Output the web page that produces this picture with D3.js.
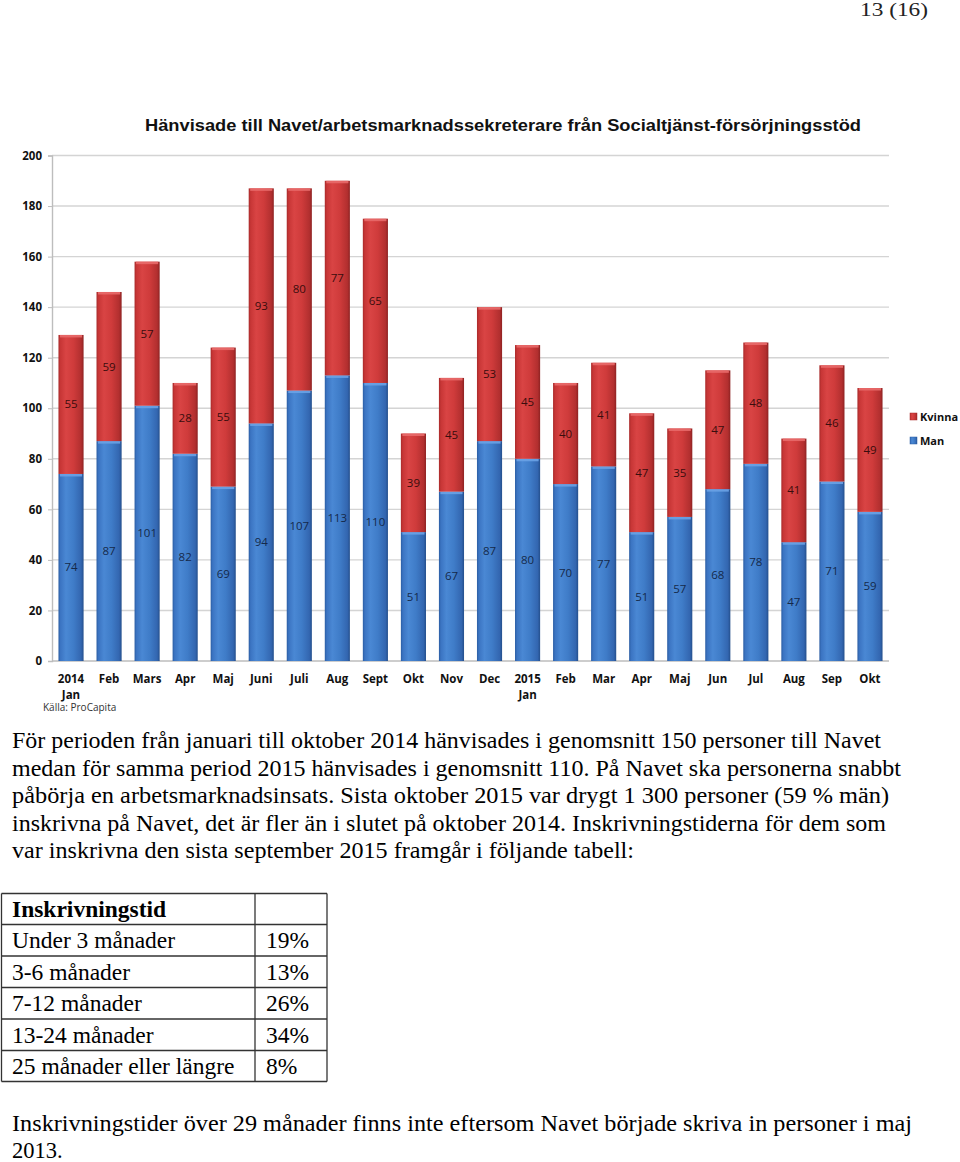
<!DOCTYPE html>
<html><head><meta charset="utf-8">
<script src="https://cdn.jsdelivr.net/npm/d3@7"></script>
<style>
html,body{margin:0;padding:0;background:#fff;}
svg{display:block;}
</style></head>
<body>
<script>
// ---- data ----
const categories = ["2014 Jan","Feb","Mars","Apr","Maj","Juni","Juli","Aug","Sept","Okt","Nov","Dec",
  "2015 Jan","Feb","Mar","Apr","Maj","Jun","Jul","Aug","Sep","Okt"];
const manValues    = [74,87,101,82,69,94,107,113,110,51,67,87,80,70,77,51,57,68,78,47,71,59];
const kvinnaValues = [55,59,57,28,55,93,80,77,65,39,45,53,45,40,41,47,35,47,48,41,46,49];
const seriesNames = ["Kvinna","Man"];
const yTicks = [0,20,40,60,80,100,120,140,160,180,200];
const chartTitle = "Hänvisade till Navet/arbetsmarknadssekreterare från Socialtjänst-försörjningsstöd";
const sourceText = "Källa: ProCapita";
const pageNumber = "13 (16)";
const paragraphLines = [
  "För perioden från januari till oktober 2014 hänvisades i genomsnitt 150 personer till Navet",
  "medan för samma period 2015 hänvisades i genomsnitt 110. På Navet ska personerna snabbt",
  "påbörja en arbetsmarknadsinsats. Sista oktober 2015 var drygt 1 300 personer (59 % män)",
  "inskrivna på Navet, det är fler än i slutet på oktober 2014. Inskrivningstiderna för dem som",
  "var inskrivna den sista september 2015 framgår i följande tabell:"
];
const tableHeader = "Inskrivningstid";
const tableLabels = ["Under 3 månader","3-6 månader","7-12 månader","13-24 månader","25 månader eller längre"];
const tableValues = ["19%","13%","26%","34%","8%"];
const footerLines = [
  "Inskrivningstider över 29 månader finns inte eftersom Navet började skriva in personer i maj",
  "2013."
];

const W = 960, H = 1162;
const svg = d3.select("body").append("svg").attr("width", W).attr("height", H);
const defs = svg.append("defs");

function grad(id, stops){
  const g = defs.append("linearGradient").attr("id", id).attr("x1","0").attr("x2","1").attr("y1","0").attr("y2","0");
  stops.forEach(s => g.append("stop").attr("offset", s[0]).attr("stop-color", s[1]));
}
grad("gRed", [[0,"#a82a2a"],[0.08,"#c73636"],[0.3,"#d94444"],[0.6,"#cf3b3b"],[0.9,"#b22f2f"],[1,"#8e2222"]]);
grad("gBlue",[[0,"#2b5da3"],[0.08,"#3b74c2"],[0.3,"#4a88d4"],[0.6,"#3f7cc8"],[0.9,"#3366b0"],[1,"#244f8c"]]);

const serif = "'Liberation Serif','Times New Roman',serif";
const sans = "'Liberation Sans',Arial,sans-serif";
const calib = "'Open Sans','Liberation Sans',sans-serif";

// page number
svg.append("text").attr("x", 860).attr("y", 16)
  .attr("font-family", serif).attr("font-size", 18).attr("fill","#222")
  .attr("textLength", 68).attr("lengthAdjust","spacingAndGlyphs").text(pageNumber);

// title
svg.append("text").attr("x", 145).attr("y", 131)
  .attr("font-family", sans).attr("font-weight","bold").attr("font-size", 16.5)
  .attr("textLength", 716).attr("lengthAdjust","spacingAndGlyphs")
  .attr("fill","#111").text(chartTitle);

// scales
const x = d3.scaleBand().domain(d3.range(categories.length)).range([52, 889]).paddingInner(0.34).paddingOuter(0.17);
const y = d3.scaleLinear().domain([0, 200]).range([661, 155.5]);

// gridlines
svg.append("g").selectAll("line").data(yTicks.filter(d => d > 0)).join("line")
  .attr("x1", 52).attr("x2", 889).attr("y1", d => y(d)).attr("y2", d => y(d))
  .attr("stroke", "#d4d4d4").attr("stroke-width", 1.4);

// y axis
const yAxis = d3.axisLeft(y).tickValues(yTicks).tickSize(4).tickPadding(6);
const yg = svg.append("g").attr("transform","translate(52,0)").call(yAxis);
yg.select(".domain").attr("stroke","#bdbdbd").attr("stroke-width",1.4);
yg.selectAll(".tick line").attr("stroke","#bdbdbd");
yg.selectAll(".tick text").attr("font-family", calib).attr("font-weight","bold").attr("font-size", 11.5).attr("fill","#111");

// x axis baseline
svg.append("line").attr("x1",52).attr("x2",889).attr("y1",y(0)).attr("y2",y(0)).attr("stroke","#bdbdbd").attr("stroke-width",1.4);

// stacked data
const rows = categories.map((c,i) => ({i, Man: manValues[i], Kvinna: kvinnaValues[i]}));
const stack = d3.stack().keys(["Man","Kvinna"])(rows);
const fills = {Man: "url(#gBlue)", Kvinna: "url(#gRed)"};
const caps = {Man: "#6aa2e6", Kvinna: "#e86a6a"};
const labelColor = {Man: "#15294a", Kvinna: "#3a0d0d"};

stack.forEach(layer => {
  const key = layer.key;
  const g = svg.append("g");
  g.selectAll("rect.bar").data(layer).join("rect").attr("class","bar")
    .attr("x", d => x(d.data.i)).attr("width", x.bandwidth())
    .attr("y", d => y(d[1])).attr("height", d => y(d[0]) - y(d[1]))
    .attr("fill", fills[key]);
  g.selectAll("rect.cap").data(layer).join("rect").attr("class","cap")
    .attr("x", d => x(d.data.i) + 1.5).attr("width", x.bandwidth() - 3)
    .attr("y", d => y(d[1])).attr("height", 2.5)
    .attr("fill", caps[key]).attr("opacity", 0.9);
  g.selectAll("text").data(layer).join("text")
    .attr("x", d => x(d.data.i) + x.bandwidth()/2)
    .attr("y", d => (y(d[0]) + y(d[1]))/2 + 4)
    .attr("text-anchor","middle").attr("font-family", calib).attr("font-size", 11.5)
    .attr("fill", labelColor[key]).text(d => d.data[key]);
});

// x labels
const xl = svg.append("g");
categories.forEach((c,i) => {
  const parts = c.split(" ");
  const t = xl.append("text").attr("x", x(i) + x.bandwidth()/2).attr("y", 683)
    .attr("text-anchor","middle").attr("font-family", calib).attr("font-weight","bold")
    .attr("font-size", 11.5).attr("fill","#111");
  parts.forEach((p,k) => t.append("tspan").attr("x", x(i) + x.bandwidth()/2).attr("dy", k ? 16 : 0).text(p));
});

// source
svg.append("text").attr("x", 43).attr("y", 711).attr("font-family", calib).attr("font-size", 10)
  .attr("fill","#333").text(sourceText);

// legend
const lg = svg.append("g");
const legendY = [417, 441];
seriesNames.forEach((s,k) => {
  lg.append("rect").attr("x", 910).attr("y", legendY[k]-4).attr("width", 7).attr("height", 7)
    .attr("fill", s === "Man" ? "url(#gBlue)" : "url(#gRed)").attr("stroke", s==="Man" ? "#2b5da3" : "#a82a2a").attr("stroke-width",0.5);
  lg.append("text").attr("x", 920).attr("y", legendY[k]+4).attr("font-family", calib)
    .attr("font-weight","bold").attr("font-size", 11).attr("fill","#111").text(s);
});

// paragraph
const paraEnds = [881, 901, 889, 886, 634];
paragraphLines.forEach((l,k) => {
  svg.append("text").attr("x", 12).attr("y", 748 + k*27.5)
    .attr("font-family", serif).attr("font-size", 22.5).attr("fill","#000")
    .attr("textLength", paraEnds[k]-12).attr("lengthAdjust","spacingAndGlyphs").text(l);
});

// table
const tX0 = 1.5, tX1 = 255, tX2 = 327;
const rowYs = [893.5, 924.5, 956, 987.5, 1019, 1050.5, 1081.5];
const tg = svg.append("g");
tg.selectAll("line.h").data(rowYs).join("line").attr("class","h")
  .attr("x1", tX0).attr("x2", tX2).attr("y1", d => d).attr("y2", d => d)
  .attr("stroke","#333").attr("stroke-width",1.3);
[tX0, tX1, tX2].forEach(xx => tg.append("line").attr("x1",xx).attr("x2",xx)
  .attr("y1", rowYs[0]).attr("y2", rowYs[rowYs.length-1]).attr("stroke","#333").attr("stroke-width",1.3));
tg.append("text").attr("x", 12).attr("y", rowYs[0] + 23.5).attr("font-family", serif).attr("font-weight","bold")
  .attr("font-size", 23.5).attr("fill","#000").text(tableHeader);
tableLabels.forEach((l,k) => {
  tg.append("text").attr("x", 12).attr("y", rowYs[k+1] + 23.5).attr("font-family", serif)
    .attr("font-size", 23.5).attr("fill","#000").text(l);
  tg.append("text").attr("x", 266).attr("y", rowYs[k+1] + 23.5).attr("font-family", serif)
    .attr("font-size", 23.5).attr("fill","#000").text(tableValues[k]);
});

// footer
svg.append("text").attr("x", 12).attr("y", 1131).attr("font-family", serif).attr("font-size", 22.5)
  .attr("textLength", 900).attr("lengthAdjust","spacingAndGlyphs").attr("fill","#000").text(footerLines[0]);
svg.append("text").attr("x", 12).attr("y", 1158).attr("font-family", serif).attr("font-size", 22.5)
  .attr("fill","#000").text(footerLines[1]);
</script>
</body></html>
